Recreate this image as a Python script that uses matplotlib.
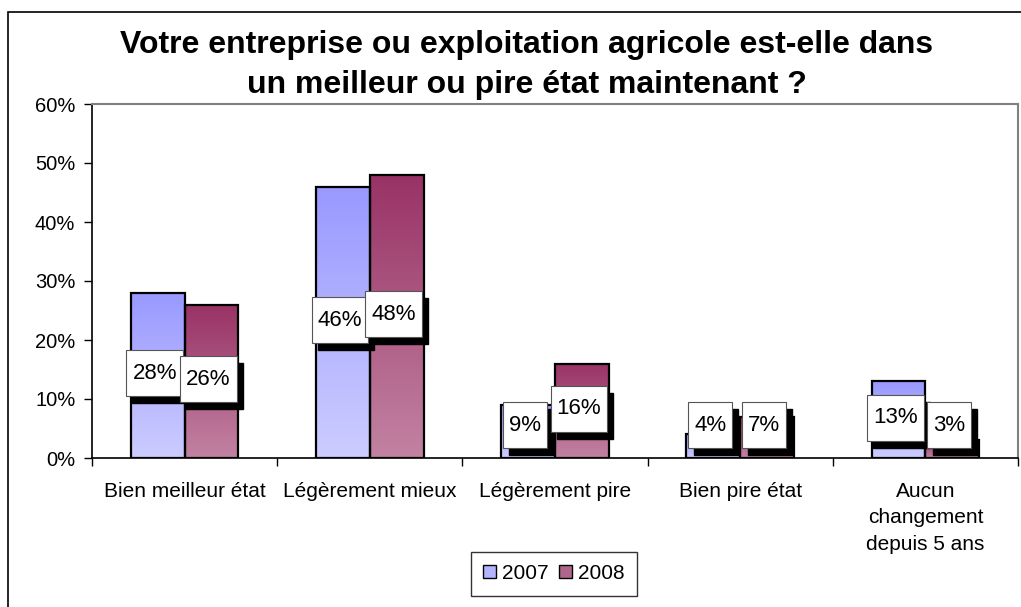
import numpy as np
import matplotlib
matplotlib.use("Agg")
import matplotlib.pyplot as plt
from matplotlib.patches import Rectangle, Patch
from matplotlib.transforms import IdentityTransform
from matplotlib.colors import to_rgb

plt.rcParams['font.family'] = ['Liberation Sans', 'DejaVu Sans']

# data
categories = ["Bien meilleur état", "Légèrement mieux", "Légèrement pire",
              "Bien pire état", "Aucun\nchangement\ndepuis 5 ans"]
values_2007 = [28, 46, 9, 4, 13]
values_2008 = [26, 48, 16, 7, 3]
series_names = ["2007", "2008"]
title = "Votre entreprise ou exploitation agricole est-elle dans\nun meilleur ou pire état maintenant ?"

# (top colour, bottom colour) of each series gradient
grad_2007 = ("#9999FF", "#CCCCFF")
grad_2008 = ("#993366", "#C282A2")

W, H = 1021, 607
fig = plt.figure(figsize=(W / 100, H / 100), dpi=100)
ax = fig.add_axes([92 / W, 1 - 458 / H, (1018 - 92) / W, (458 - 104) / H])

x = np.arange(len(categories))
bw = 0.29


def gradient_bar(xc, v, colors):
    top, bottom = np.array(to_rgb(colors[0])), np.array(to_rgb(colors[1]))
    t = np.linspace(0, 1, 64)[:, None]
    img = (bottom * (1 - t) + top * t)[:, None, :]
    bar = ax.bar(xc, v, width=bw, facecolor="none", edgecolor="black",
                 linewidth=1.6, zorder=3)[0]
    im = ax.imshow(img, extent=[xc - bw / 2, xc + bw / 2, 0, v], origin="lower",
                   aspect="auto", zorder=2, interpolation="bilinear")
    im.set_clip_path(bar)


for i in range(len(categories)):
    gradient_bar(x[i] - bw / 2, values_2007[i], grad_2007)
    gradient_bar(x[i] + bw / 2, values_2008[i], grad_2008)

ax.set_xlim(-0.5, len(categories) - 0.5)
ax.set_ylim(0, 60)
ax.set_yticks(range(0, 61, 10))
ax.set_yticklabels([f"{v}%" for v in range(0, 61, 10)])
ax.set_xticks(x)
ax.set_xticklabels(categories, linespacing=1.5)
ax.set_xticks(np.arange(-0.5, len(categories)), minor=True)
ax.tick_params(axis="x", which="major", length=0, pad=17, labelsize=15)
ax.tick_params(axis="x", which="minor", length=6, width=1, direction="out")
ax.tick_params(axis="y", length=6, width=1, direction="out", pad=6, labelsize=14.5)

for s in ["left", "bottom"]:
    ax.spines[s].set_color("black")
    ax.spines[s].set_linewidth(1.2)
for s in ["top", "right"]:
    ax.spines[s].set_color("#808080")
    ax.spines[s].set_linewidth(1.5)

# value labels: white box with black drop shadow
renderer = fig.canvas.get_renderer()
for vals, off in [(values_2007, -bw / 2), (values_2008, bw / 2)]:
    for i, v in enumerate(vals):
        yc = max(v / 2, 5.2)
        cx, cy = ax.transData.transform((x[i] + off, yc))
        cx -= 3
        cy += 2
        t = fig.text(cx, cy, f"{v}%", transform=IdentityTransform(),
                     ha="center", va="center", fontsize=16, zorder=7)
        tw = t.get_window_extent(renderer).width
        bwid, bh = tw + 12, 46
        fig.add_artist(Rectangle((cx - bwid / 2 + 6, cy - bh / 2 - 7), bwid, bh,
                                 transform=IdentityTransform(), facecolor="black",
                                 edgecolor="black", zorder=5))
        fig.add_artist(Rectangle((cx - bwid / 2, cy - bh / 2), bwid, bh,
                                 transform=IdentityTransform(), facecolor="white",
                                 edgecolor="#555555", linewidth=0.8, zorder=6))

fig.text(527 / W, 1 - 65 / H, title, ha="center", va="center",
         fontsize=23, fontweight="bold", linespacing=1.4)

# outer chart border
fig.add_artist(Rectangle((8 / W, -0.1), 1.2, 1 - 12 / H + 0.1, transform=fig.transFigure,
                         facecolor="none", edgecolor="black", linewidth=1.2))

handles = [Patch(facecolor="#B3B3FF", edgecolor="black", label=series_names[0]),
           Patch(facecolor="#B0668A", edgecolor="black", label=series_names[1])]
leg = fig.legend(handles=handles, loc="center", ncol=2,
                 bbox_to_anchor=(554 / W, 1 - 573.5 / H), frameon=True, fancybox=False,
                 fontsize=15, handlelength=0.6, handleheight=0.6, handletextpad=0.3,
                 columnspacing=0.5, borderpad=0.6, edgecolor="black")
leg.get_frame().set_linewidth(1.0)

fig.savefig("out.png", dpi=100)
